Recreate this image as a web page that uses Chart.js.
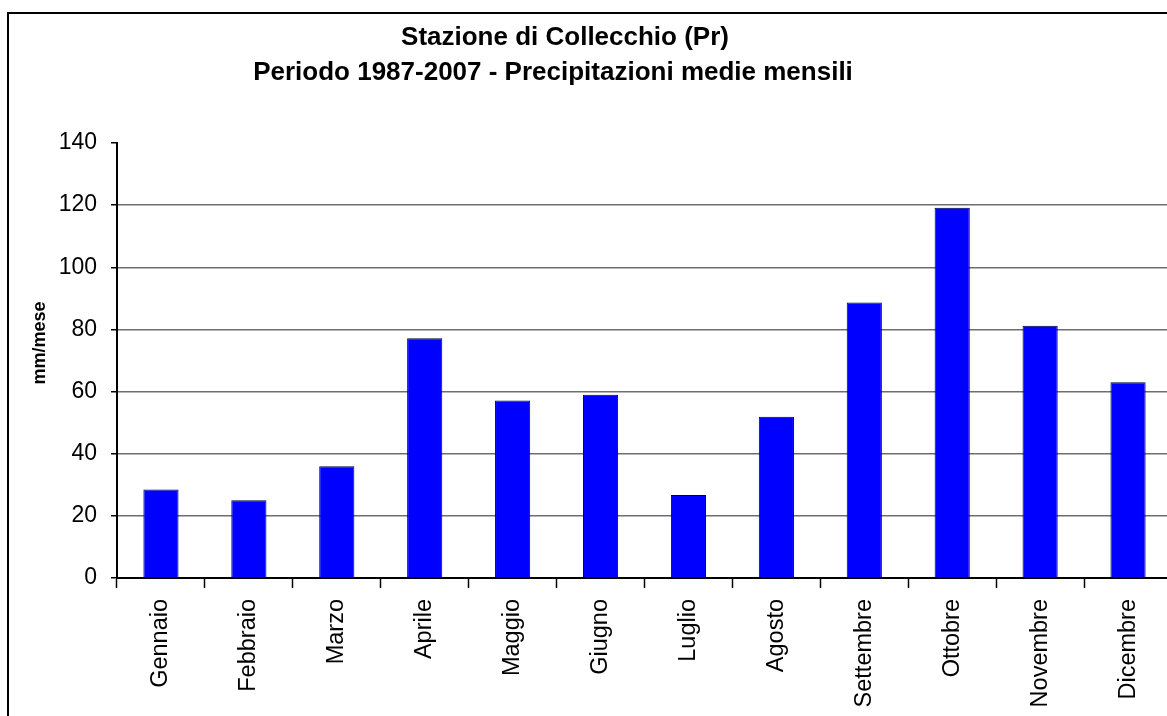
<!DOCTYPE html>
<html>
<head>
<meta charset="utf-8">
<script src="https://cdn.jsdelivr.net/npm/chart.js@4/dist/chart.umd.min.js"></script>
<style>
  html, body { margin: 0; padding: 0; background: #fff; overflow: hidden; }
  #wrap { width: 1167px; height: 716px; overflow: hidden; position: relative; }
  canvas { position: absolute; left: 0; top: 0; }
</style>
</head>
<body>
<div id="wrap"><canvas id="c" width="1200" height="716"></canvas></div>
<script>
// Precipitazioni medie mensili, Collecchio (Pr), 1987-2007
const mesi = ['Gennaio', 'Febbraio', 'Marzo', 'Aprile', 'Maggio', 'Giugno',
              'Luglio', 'Agosto', 'Settembre', 'Ottobre', 'Novembre', 'Dicembre'];
const precipitazioni = [28.5, 25, 36, 77.2, 57.1, 59, 26.7, 51.9, 88.7, 119.2, 81.2, 63];
const titolo = ['Stazione di Collecchio (Pr)', 'Periodo 1987-2007 - Precipitazioni medie mensili'];
const etichettaY = 'mm/mese';
const yMin = 0, yMax = 140, yPasso = 20;

const FONT = '"Liberation Sans", Arial, sans-serif';

// Frame, chart title and vertical axis caption
const decorazioni = {
  id: 'decorazioni',
  beforeDraw(chart) {
    const ctx = chart.ctx;
    ctx.save();
    ctx.fillStyle = '#fff';
    ctx.fillRect(0, 0, chart.width, chart.height);
    ctx.strokeStyle = '#000';
    ctx.lineWidth = 2;
    ctx.strokeRect(8, 13, chart.width + 20, chart.height + 20);
    ctx.restore();
  },
  afterDraw(chart) {
    const ctx = chart.ctx;
    ctx.save();
    ctx.fillStyle = '#000';
    ctx.textAlign = 'center';
    ctx.textBaseline = 'middle';
    ctx.font = 'bold 26px ' + FONT;
    ctx.fillText(titolo[0], 565, 38);
    ctx.fillText(titolo[1], 553, 73);
    ctx.translate(40, 343);
    ctx.rotate(-Math.PI / 2);
    ctx.font = 'bold 18px ' + FONT;
    ctx.fillText(etichettaY, 0, 0);
    ctx.restore();
  }
};

new Chart(document.getElementById('c'), {
  type: 'bar',
  data: {
    labels: mesi,
    datasets: [{
      data: precipitazioni,
      backgroundColor: '#0000FF',
      borderColor: '#000040',
      borderWidth: 1,
      categoryPercentage: 1,
      barPercentage: 0.4
    }]
  },
  options: {
    responsive: false,
    animation: false,
    devicePixelRatio: 1,
    layout: { padding: { top: 143, right: 28, left: 0, bottom: 0 } },
    plugins: {
      legend: { display: false },
      tooltip: { enabled: false },
      title: { display: false }
    },
    scales: {
      x: {
        afterFit(scale) { scale.height = 138; },
        grid: {
          offset: true,
          drawOnChartArea: false,
          drawTicks: true,
          tickLength: 10,
          tickColor: '#000',
          tickWidth: 1.5
        },
        border: { color: '#000', width: 2 },
        ticks: {
          autoSkip: false,
          minRotation: 90,
          maxRotation: 90,
          padding: 11,
          color: '#000',
          font: { family: FONT, size: 23.5 }
        }
      },
      y: {
        min: yMin,
        max: yMax,
        afterFit(scale) { scale.width = 117; },
        grid: {
          color: (c) => (c.tick && c.tick.value === yMax) ? 'rgba(0,0,0,0)' : '#6e6e6e',
          lineWidth: 1.5,
          tickLength: 6,
          tickColor: '#000',
          tickWidth: 1.5
        },
        border: { color: '#000', width: 2 },
        ticks: {
          stepSize: yPasso,
          padding: 14,
          color: '#000',
          font: { family: FONT, size: 23 }
        }
      }
    }
  },
  plugins: [decorazioni]
});
</script>
</body>
</html>
